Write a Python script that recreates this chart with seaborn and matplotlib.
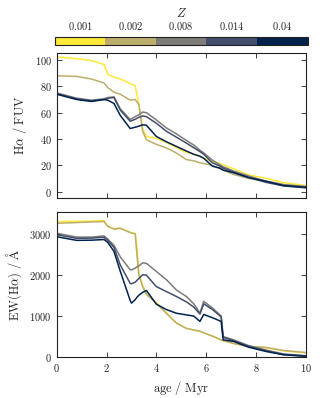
import numpy as np
import pandas as pd
import matplotlib
matplotlib.use("Agg")
import matplotlib.pyplot as plt
import matplotlib.colors as mcolors
import matplotlib.ticker as mticker
import seaborn as sns

# metallicities (labels of the colour bar)
Z_labels = ["0.001", "0.002", "0.008", "0.014", "0.04"]

# --- top panel: Halpha / FUV ---
age_top = [0, 0.8, 1.4, 1.9, 2.05, 2.3, 2.55, 2.95, 3.15, 3.3, 3.45, 3.6, 4.0, 4.4,
           4.8, 5.2, 5.5, 5.75, 5.9, 6.25, 6.55, 6.68, 7.1, 7.7, 8.4, 9.1, 10]
ha_fuv_0001 = [102.3, 101, 99.5, 96.5, 89, 87, 85.5, 82, 80.5, 66, 48, 42, 40.5, 37.5,
               33.5, 30, 28.5, 27, 25.5, 22.8, 21.5, 20.5, 17.5, 12.8, 10.3, 7, 4.8]
ha_fuv_0002 = [88, 87.5, 85.5, 82.5, 79, 75.5, 74, 69.5, 70, 66, 46, 39.5, 36, 33.3,
               29.5, 24.5, 23.5, 22, 21.5, 20, 17.5, 16.5, 13.2, 10.2, 8, 5.5, 4.3]
ha_fuv_0008 = [75, 71, 69.5, 70.5, 71.5, 72, 63, 54.8, 57, 58.5, 60.5, 60, 54.5, 48.5,
               44, 39, 35.5, 31.5, 29.5, 24, 20.5, 19, 15.8, 12, 8.2, 5.5, 3.8]
ha_fuv_0014 = [74.5, 70.5, 69, 70, 71, 71.5, 62, 53.5, 55, 56.5, 57.5, 57, 52, 46,
               41.5, 37, 33.5, 30.5, 28.5, 22, 19.5, 18, 15, 11, 7.2, 4.5, 3]
ha_fuv_004 = [74, 70, 68.5, 70, 69.5, 67, 58, 48, 49, 49.8, 50.8, 50.5, 42, 38,
              34.5, 31, 28.5, 27, 25.5, 19.5, 18, 16.5, 14.5, 10.8, 8, 4.8, 3.5]

# --- bottom panel: EW(Halpha) ---
age_bot = [0, 0.8, 1.4, 1.9, 2.05, 2.3, 2.55, 2.95, 3.0, 3.15, 3.22, 3.3, 3.45, 3.6,
           4.0, 4.4, 4.8, 5.2, 5.5, 5.75, 5.9, 6.25, 6.6, 6.68, 7.1, 7.7, 8.4, 9.1, 10]
ew_0001 = [3309, 3315, 3320, 3335, 3200, 3130, 3150, 3050, 3040, 3020, 2700, 2050, 1750, 1550,
           1330, 1080, 840, 700, 660, 630, 590, 510, 420, 400, 330, 255, 225, 150, 100]
ew_0002 = [3268, 3285, 3300, 3310, 3190, 3125, 3145, 3040, 3030, 3010, 2500, 2000, 1720, 1530,
           1310, 1070, 830, 700, 660, 630, 590, 510, 420, 400, 330, 260, 235, 160, 110]
ew_0008 = [3024, 2930, 2930, 2960, 2880, 2730, 2450, 2130, 2130, 2170, 2200, 2230, 2300, 2290,
           2090, 1890, 1640, 1480, 1300, 1073, 1360, 1200, 1000, 500, 420, 280, 170, 75, 33]
ew_0014 = [2990, 2900, 2905, 2925, 2850, 2680, 2250, 1800, 1790, 1830, 1870, 1920, 2010, 2000,
           1720, 1600, 1480, 1350, 1220, 1049, 1300, 1160, 980, 480, 400, 260, 155, 60, 25]
ew_004 = [2940, 2850, 2855, 2870, 2800, 2580, 2100, 1380, 1317, 1400, 1460, 1510, 1580, 1626,
          1290, 1160, 1070, 1030, 1000, 870, 1040, 960, 870, 420, 380, 240, 135, 55, 16]

top_series = [ha_fuv_0001, ha_fuv_0002, ha_fuv_0008, ha_fuv_0014, ha_fuv_004]
bot_series = [ew_0001, ew_0002, ew_0008, ew_0014, ew_004]

frames = []
for z, v in zip(Z_labels, top_series):
    frames.append(pd.DataFrame({"age": age_top, "val": v, "Z": z, "panel": "top"}))
for z, v in zip(Z_labels, bot_series):
    frames.append(pd.DataFrame({"age": age_bot, "val": v, "Z": z, "panel": "bot"}))
df = pd.concat(frames, ignore_index=True)

sns.set_theme(style="ticks")
plt.rcParams["font.family"] = ["DejaVu Serif"]
plt.rcParams["mathtext.fontset"] = "cm"
plt.rcParams["axes.linewidth"] = 0.8
plt.rcParams["axes.edgecolor"] = "#222222"

cmap = plt.get_cmap("cividis")
colors = [cmap(x) for x in np.linspace(1, 0, 5)]
palette = dict(zip(Z_labels, colors))

fig = plt.figure(figsize=(3.22, 3.98), dpi=100)
ax1 = fig.add_axes([0.176, 0.503, 0.774, 0.364])
ax2 = fig.add_axes([0.176, 0.103, 0.774, 0.364])
cax = fig.add_axes([0.170, 0.886, 0.785, 0.020])

sns.lineplot(data=df[df.panel == "top"], x="age", y="val", hue="Z", hue_order=Z_labels,
             palette=palette, legend=False, lw=1.1, ax=ax1)
sns.lineplot(data=df[df.panel == "bot"], x="age", y="val", hue="Z", hue_order=Z_labels,
             palette=palette, legend=False, lw=1.1, ax=ax2)

math_fmt = mticker.FuncFormatter(lambda v, p: r"$%d$" % round(v))
for ax in (ax1, ax2):
    ax.set_xlim(0, 10)
    ax.xaxis.set_major_locator(mticker.MultipleLocator(2))
    ax.tick_params(direction="in", top=True, right=True, length=3.5, width=0.6,
                   labelsize=7.5, colors="#222222")
    ax.xaxis.set_major_formatter(math_fmt)
    ax.yaxis.set_major_formatter(math_fmt)

ax1.set_ylim(-4.5, 105.3)
ax1.yaxis.set_major_locator(mticker.MultipleLocator(20))
ax1.tick_params(labelbottom=False)
ax1.set_xlabel("")
ax1.set_ylabel(r"$\mathrm{H}\alpha\ /\ \mathrm{FUV}$", fontsize=9)

ax2.set_ylim(0, 3540)
ax2.yaxis.set_major_locator(mticker.MultipleLocator(1000))
ax2.set_xlabel(r"$\mathrm{age}\ /\ \mathrm{Myr}$", fontsize=9)
ax2.set_ylabel(r"$\mathrm{EW(H}\alpha\mathrm{)}\ /\ \mathrm{\AA}$", fontsize=9)
fig.align_ylabels([ax1, ax2])

# discrete colour bar
bar_cmap = mcolors.ListedColormap(colors)
norm = mcolors.BoundaryNorm(np.arange(6), 5)
cb = fig.colorbar(plt.cm.ScalarMappable(norm=norm, cmap=bar_cmap), cax=cax,
                  orientation="horizontal", ticks=np.arange(5) + 0.5)
cb.ax.minorticks_off()
cb.ax.xaxis.set_ticks_position("top")
cb.ax.xaxis.set_label_position("top")
cb.set_ticklabels([r"$%s$" % z for z in Z_labels])
cb.ax.tick_params(which="both", length=0, labelsize=7.5, pad=4)
cb.outline.set_linewidth(0.8)
cb.set_label(r"$Z$", fontsize=9, labelpad=2)

fig.savefig("out.png", dpi=100)
